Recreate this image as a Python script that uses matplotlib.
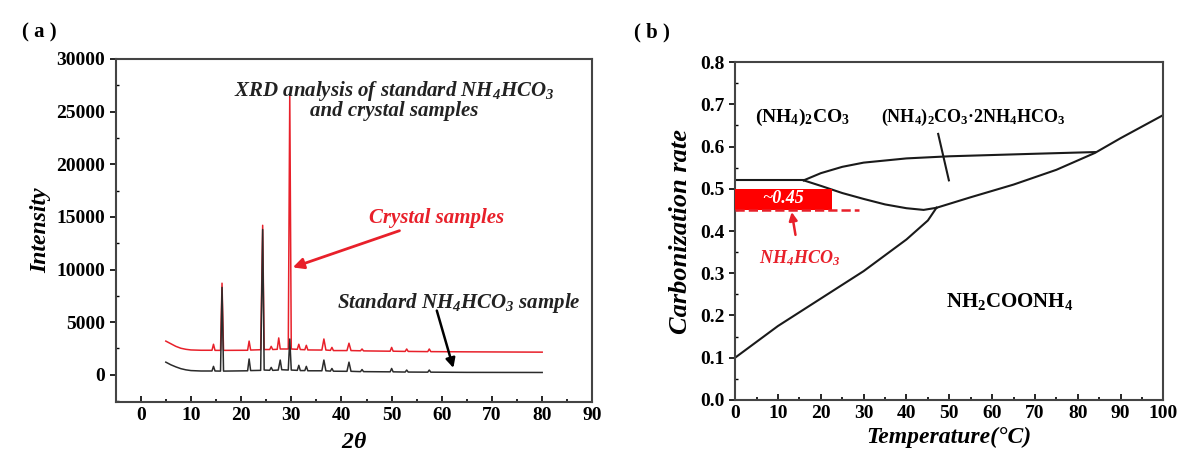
import matplotlib
matplotlib.use('Agg')
import matplotlib.pyplot as plt
from matplotlib.ticker import MultipleLocator, FormatStrFormatter

plt.rcParams['font.family'] = ['Liberation Serif', 'DejaVu Serif']
plt.rcParams['font.weight'] = 'bold'
plt.rcParams['mathtext.default'] = 'regular'

RED = '#e8202a'
DARK = '#2b2b2b'

# ---- (a) XRD traces: 2theta vs intensity ----
std_2theta = [5, 6, 7, 8, 9, 10, 12, 14.2, 14.5, 14.8, 15.9, 16.2, 16.5,
              21.3, 21.6, 21.9, 23.9, 24.3, 24.6, 25.7, 26.0, 26.3,
              27.4, 27.8, 28.1, 29.4, 29.7, 30.0, 31.2, 31.5, 31.8,
              32.7, 33.0, 33.3, 36.1, 36.5, 36.9, 37.8, 38.1, 38.4,
              41.1, 41.5, 41.9, 43.8, 44.1, 44.4, 49.7, 50.0, 50.3,
              52.7, 53.0, 53.3, 57.2, 57.5, 57.8, 65, 80]
std_intensity = [1200, 950, 750, 580, 470, 400, 360, 360, 800, 360, 350, 8300, 350,
                 380, 1500, 400, 420, 13800, 450, 430, 700, 420,
                 450, 1400, 480, 450, 3400, 450, 420, 900, 400,
                 400, 800, 380, 380, 1400, 380, 350, 600, 340,
                 330, 1200, 330, 300, 500, 300, 280, 600, 280,
                 260, 450, 260, 250, 450, 250, 230, 220]

cry_2theta = [5, 6, 7, 8, 9, 10, 12, 14.2, 14.5, 14.8, 15.9, 16.2, 16.5,
              21.3, 21.6, 21.9, 23.9, 24.3, 24.6, 25.7, 26.0, 26.3,
              27.2, 27.5, 27.8, 29.4, 29.7, 30.0, 31.2, 31.5, 31.8,
              32.7, 33.0, 33.3, 36.1, 36.5, 36.9, 37.8, 38.1, 38.4,
              41.1, 41.5, 41.9, 43.8, 44.1, 44.4, 49.7, 50.0, 50.3,
              52.7, 53.0, 53.3, 57.2, 57.5, 57.8, 65, 80]
cry_intensity = [3200, 2950, 2700, 2520, 2420, 2360, 2330, 2330, 2900, 2320, 2320, 8700, 2320,
                 2330, 3200, 2350, 2380, 14200, 2400, 2400, 2700, 2400,
                 2420, 3500, 2450, 2450, 26700, 2450, 2420, 2900, 2400,
                 2380, 2800, 2360, 2350, 3400, 2350, 2320, 2600, 2300,
                 2300, 3000, 2300, 2280, 2450, 2270, 2240, 2600, 2240,
                 2220, 2450, 2220, 2200, 2450, 2200, 2180, 2150]

# ---- (b) phase diagram boundaries: temperature vs carbonization rate ----
carbamate_t = [0, 10, 20, 30, 40, 45, 47]
carbamate_r = [0.10, 0.175, 0.24, 0.305, 0.38, 0.425, 0.455]
bicarb_t = [47, 55, 65, 75, 84, 90, 100]
bicarb_r = [0.455, 0.48, 0.51, 0.545, 0.585, 0.62, 0.675]
upper_t = [16, 20, 25, 30, 40, 50, 60, 70, 84]
upper_r = [0.52, 0.537, 0.552, 0.562, 0.572, 0.577, 0.580, 0.583, 0.587]
middle_t = [16, 20, 25, 30, 35, 40, 44, 47]
middle_r = [0.52, 0.507, 0.49, 0.476, 0.463, 0.454, 0.45, 0.455]
carbonate_t = [0, 16]
carbonate_r = [0.52, 0.52]
tie_t = [47.4, 49.9]
tie_r = [0.63, 0.52]
band_t = [0, 22.5]
band_low = 0.45
band_high = 0.50
dash_t = [0, 29]

fig = plt.figure(figsize=(11.8, 4.57), dpi=100)
ax1 = fig.add_axes([0.098, 0.120, 0.404, 0.751])
ax2 = fig.add_axes([0.623, 0.125, 0.363, 0.739])

for ax in (ax1, ax2):
  for s in ax.spines.values():
    s.set_linewidth(1.5)
    s.set_color('#444444')
  ax.tick_params(axis='x', which='both', direction='in', labelsize=14, width=1.2)
  ax.tick_params(axis='y', which='major', direction='out', labelsize=14, width=1.2)
  ax.tick_params(axis='y', which='minor', direction='in', width=1.0)
  ax.tick_params(which='major', length=4)
  ax.tick_params(which='minor', length=2.5)

# panel (a)
ax1.plot(cry_2theta, cry_intensity, color=RED, lw=1.1, zorder=2)
ax1.plot(std_2theta, std_intensity, color=DARK, lw=1.1, zorder=3)
ax1.set_xlim(-5, 90)
ax1.set_ylim(-2600, 30000)
ax1.xaxis.set_major_locator(MultipleLocator(10))
ax1.xaxis.set_minor_locator(MultipleLocator(5))
ax1.yaxis.set_major_locator(MultipleLocator(5000))
ax1.yaxis.set_minor_locator(MultipleLocator(2500))
ax1.set_xlabel(r'2$\theta$', fontsize=17, style='italic', fontweight='bold', labelpad=6)
ax1.set_ylabel('Intensity', fontsize=17, style='italic', fontweight='bold', labelpad=4)

ax1.text(50.5, 27000, r'XRD analysis of standard NH$_4$HCO$_3$', ha='center', va='center',
         fontsize=15, style='italic', fontweight='bold', color='#222222')
ax1.text(50.5, 25100, 'and crystal samples', ha='center', va='center',
         fontsize=15, style='italic', fontweight='bold', color='#222222')
ax1.annotate('Crystal samples', xy=(30.3, 10200), xytext=(45.5, 14900),
             fontsize=15, style='italic', fontweight='bold', color=RED, va='center',
             arrowprops=dict(arrowstyle='-|>', color=RED, lw=2, mutation_scale=16,
                             shrinkA=0, shrinkB=0))
ax1.text(39.2, 6800, r'Standard NH$_4$HCO$_3$ sample', fontsize=15, style='italic',
         fontweight='bold', color='#222222', va='center')
ax1.annotate('', xy=(62.3, 650), xytext=(59.0, 6100),
             arrowprops=dict(arrowstyle='-|>', color='black', lw=1.8, mutation_scale=14,
                             shrinkA=0, shrinkB=0))

# panel (b)
for t, r in ((carbamate_t, carbamate_r), (bicarb_t, bicarb_r), (upper_t, upper_r),
             (middle_t, middle_r), (carbonate_t, carbonate_r), (tie_t, tie_r)):
  ax2.plot(t, r, color='#1a1a1a', lw=1.5)
ax2.fill_between(band_t, band_low, band_high, color='red', lw=0, zorder=3)
ax2.plot(dash_t, [band_low, band_low], '--', color=RED, lw=1.8, zorder=4)
ax2.text(11.2, 0.476, '~0.45', ha='center', va='center', color='white', fontsize=13,
         style='italic', fontweight='bold', zorder=5)
ax2.annotate(r'NH$_4$HCO$_3$', xy=(13.2, 0.445), xytext=(15.0, 0.335),
             ha='center', va='center', fontsize=13, style='italic', fontweight='bold',
             color=RED,
             arrowprops=dict(arrowstyle='-|>', color=RED, lw=1.8, mutation_scale=12,
                             shrinkA=8, shrinkB=0))
ax2.text(15.8, 0.668, r'(NH$_4$)$_2$CO$_3$', ha='center', va='center', fontsize=14)
ax2.text(55.6, 0.668, r'(NH$_4$)$_2$CO$_3$·2NH$_4$HCO$_3$', ha='center', va='center',
         fontsize=13)
ax2.text(64.0, 0.232, r'NH$_2$COONH$_4$', ha='center', va='center', fontsize=15)

ax2.set_xlim(0, 100)
ax2.set_ylim(0, 0.8)
ax2.xaxis.set_major_locator(MultipleLocator(10))
ax2.xaxis.set_minor_locator(MultipleLocator(5))
ax2.yaxis.set_major_locator(MultipleLocator(0.1))
ax2.yaxis.set_minor_locator(MultipleLocator(0.05))
ax2.yaxis.set_major_formatter(FormatStrFormatter('%.1f'))
ax2.set_xlabel('Temperature(°C)', fontsize=17, style='italic', fontweight='bold', labelpad=4)
ax2.set_ylabel('Carbonization rate', fontsize=19, style='italic', fontweight='bold', labelpad=6)

fig.text(0.019, 0.93, '( a )', fontsize=15, fontweight='bold', va='center')
fig.text(0.537, 0.93, '( b )', fontsize=15, fontweight='bold', va='center')

fig.savefig('out.png', dpi=100)
